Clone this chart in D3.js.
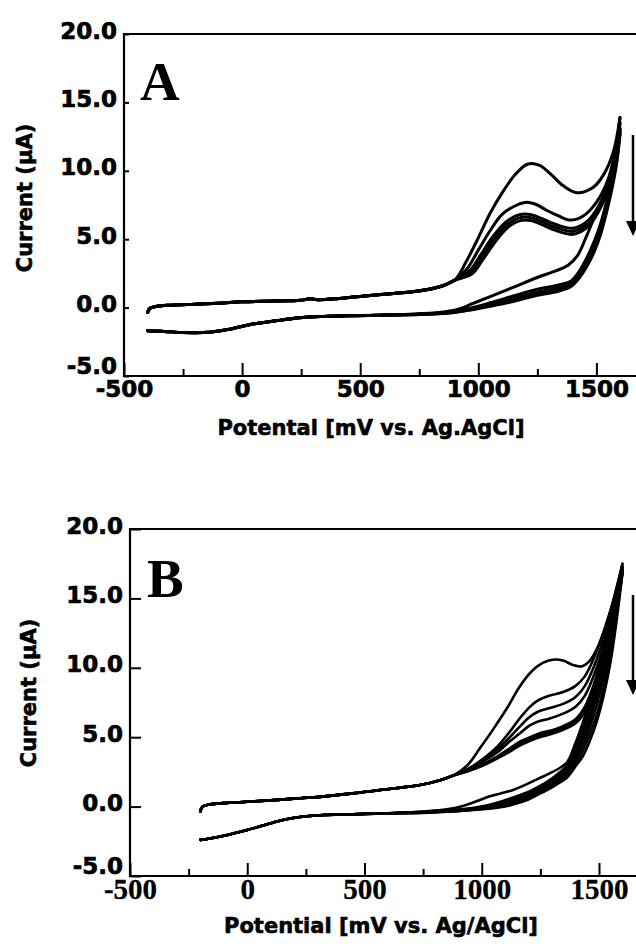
<!DOCTYPE html>
<html>
<head>
<meta charset="utf-8">
<script src="https://cdnjs.cloudflare.com/ajax/libs/d3/7.8.5/d3.min.js"></script>
<style>
    body { margin: 0; background: #fff; }
</style>
</head>
<body>
<div id="chart"></div>
<script>

/* * * * * * * * * * * * * *
*   data (mV, uA) pairs    *
* * * * * * * * * * * * * */

// axis ticks
const yTicks = [-5, 0, 5, 10, 15, 20];
const xTicks = [-500, 0, 500, 1000, 1500];
const xMinorTicks = [-250, 250, 750, 1250];

// panel A - forward scan, common part
const fwdBaseA = [[-400,-0.35],[-390,-0.05],[-360,0.1],[-300,0.18],[-200,0.25],[-100,0.32],[0,0.42],[100,0.47],[200,0.5],[250,0.53],[285,0.64],[320,0.58],[400,0.65],[500,0.82],[600,0.98],[700,1.12],[780,1.3],[850,1.6],[900,2.0]];
// panel A - forward scans after the split, cycles 1..5
const fwdA1 = [[950,3.4],[1000,5.1],[1050,6.9],[1105,8.5],[1160,9.8],[1210,10.5],[1260,10.4],[1310,9.7],[1360,8.9],[1418,8.4],[1487,8.8],[1530,9.7],[1572,11.4],[1600,13.9]];
const fwdA2 = [[951,2.8],[1000,4.2],[1049,5.6],[1100,6.8],[1164,7.5],[1206,7.7],[1250,7.5],[1291,7.1],[1340,6.7],[1390,6.4],[1444,6.7],[1500,7.7],[1550,9.4],[1600,13.5]];
const fwdA3 = [[964,2.7],[1010,3.85],[1062,5.2],[1120,6.3],[1177,6.8],[1220,6.8],[1270,6.5],[1317,6.15],[1360,5.9],[1402,5.8],[1461,6.3],[1510,7.45],[1560,9.45],[1600,13.1]];
const fwdA4 = [[968,2.55],[1013,3.65],[1064,4.95],[1120,6.05],[1177,6.58],[1220,6.58],[1270,6.28],[1317,5.93],[1360,5.68],[1402,5.58],[1461,6.08],[1510,7.25],[1560,9.25],[1600,12.9]];
const fwdA5 = [[972,2.45],[1017,3.45],[1067,4.7],[1122,5.82],[1178,6.36],[1222,6.36],[1270,6.06],[1317,5.71],[1360,5.46],[1402,5.36],[1461,5.86],[1510,7.05],[1560,9.05],[1600,12.7]];
// panel A - reverse scans, cycles 1..5, then common part
const revA1 = [[1600,13.9],[1585,11.9],[1565,9.9],[1540,8.5],[1503,7.1],[1460,5.3],[1420,3.8],[1380,3.1],[1330,2.7],[1250,2.2],[1150,1.5],[1050,0.8],[977,0.3],[920,-0.1],[860,-0.3],[750,-0.45]];
const revA2 = [[1600,13.5],[1588,11.7],[1572,10.0],[1545,7.9],[1517,6.1],[1490,4.8],[1461,3.7],[1425,2.6],[1389,1.9],[1340,1.65],[1300,1.5],[1250,1.35],[1148,0.85],[1050,0.35],[950,-0.1],[867,-0.35],[750,-0.47]];
const revA3 = [[1600,13.1],[1588,11.3],[1572,9.7],[1545,7.6],[1517,5.8],[1490,4.5],[1461,3.4],[1425,2.4],[1389,1.75],[1340,1.45],[1300,1.3],[1250,1.15],[1148,0.7],[1050,0.25],[950,-0.15],[867,-0.38],[750,-0.48]];
const revA4 = [[1600,12.9],[1588,11.0],[1572,9.4],[1545,7.3],[1517,5.5],[1490,4.25],[1461,3.2],[1425,2.25],[1389,1.6],[1340,1.3],[1300,1.15],[1250,1.0],[1148,0.55],[1050,0.15],[950,-0.2],[867,-0.4],[750,-0.5]];
const revA5 = [[1600,12.7],[1588,10.8],[1572,9.2],[1545,7.1],[1517,5.3],[1490,4.05],[1461,3.05],[1425,2.1],[1389,1.5],[1340,1.2],[1300,1.05],[1250,0.9],[1148,0.45],[1050,0.1],[950,-0.22],[867,-0.42],[750,-0.5]];
const revBaseA = [[612,-0.55],[450,-0.6],[330,-0.65],[243,-0.75],[150,-0.95],[31,-1.25],[-60,-1.6],[-139,-1.8],[-250,-1.82],[-330,-1.74],[-400,-1.7]];

// panel B - forward scan, common part
const fwdBaseB = [[-200,-0.35],[-190,0.0],[-160,0.15],[-100,0.25],[0,0.35],[100,0.45],[225,0.6],[310,0.7],[450,0.95],[566,1.2],[737,1.55],[822,1.9],[880,2.25]];
// panel B - forward scans after the split, cycles 1..7
const fwdB1 = [[940,3.0],[992,4.2],[1050,5.6],[1108,7.1],[1160,8.6],[1210,9.7],[1260,10.35],[1310,10.6],[1350,10.5],[1389,10.2],[1425,10.1],[1460,10.5],[1500,11.7],[1545,13.9],[1600,17.5]];
const fwdB2 = [[950,2.8],[1010,3.5],[1065,4.3],[1120,5.4],[1164,6.4],[1200,7.1],[1235,7.6],[1290,8.0],[1347,8.25],[1400,8.7],[1440,9.4],[1490,11.2],[1545,13.9],[1600,17.3]];
const fwdB3 = [[950,2.75],[1010,3.4],[1065,4.1],[1120,5.0],[1164,5.8],[1200,6.4],[1235,6.8],[1290,7.1],[1347,7.4],[1400,7.9],[1440,8.7],[1490,10.6],[1545,13.5],[1600,17.2]];
const fwdB4 = [[950,2.7],[1010,3.3],[1065,3.9],[1120,4.7],[1164,5.3],[1200,5.8],[1235,6.1],[1290,6.35],[1347,6.7],[1400,7.2],[1440,8.0],[1490,10.0],[1545,13.1],[1600,17.1]];
const fwdB5 = [[950,2.65],[1010,3.1],[1065,3.6],[1120,4.2],[1164,4.7],[1206,5.0],[1250,5.3],[1300,5.5],[1347,5.8],[1400,6.3],[1440,7.2],[1490,9.4],[1545,12.7],[1600,17.0]];
const fwdB6 = [[950,2.62],[1010,3.05],[1065,3.52],[1120,4.08],[1164,4.55],[1206,4.86],[1250,5.15],[1300,5.36],[1347,5.66],[1400,6.15],[1440,7.0],[1490,9.2],[1545,12.5],[1600,16.9]];
const fwdB7 = [[950,2.6],[1010,3.0],[1065,3.45],[1120,3.96],[1164,4.42],[1206,4.74],[1250,5.02],[1300,5.24],[1347,5.53],[1400,6.0],[1440,6.85],[1490,9.0],[1545,12.3],[1600,16.8]];
// panel B - reverse scans, cycles 1..7, then common part
const revB1 = [[1600,17.5],[1575,15.6],[1550,13.6],[1520,11.4],[1490,9.4],[1460,7.6],[1430,6.0],[1400,4.6],[1364,3.2],[1334,2.8],[1290,2.4],[1240,2.0],[1190,1.6],[1134,1.2],[1080,0.95],[1035,0.75],[980,0.4],[920,0.05],[850,-0.2],[750,-0.35]];
const revB2 = [[1600,17.3],[1575,15.3],[1550,13.2],[1520,10.9],[1490,8.9],[1460,7.1],[1430,5.6],[1400,4.3],[1364,3.0],[1320,2.3],[1280,1.8],[1249,1.5],[1190,1.0],[1134,0.65],[1080,0.35],[1020,0.08],[960,-0.1],[880,-0.25],[750,-0.38]];
const revB3 = [[1600,17.2],[1575,15.0],[1550,12.8],[1520,10.4],[1490,8.4],[1460,6.6],[1430,5.2],[1400,4.0],[1364,2.8],[1320,2.15],[1280,1.65],[1249,1.35],[1190,0.85],[1134,0.52],[1080,0.25],[1020,0.02],[960,-0.14],[880,-0.28],[750,-0.4]];
const revB4 = [[1600,17.1],[1575,14.6],[1550,12.3],[1520,9.9],[1490,7.9],[1460,6.2],[1430,4.8],[1400,3.7],[1364,2.6],[1320,2.0],[1280,1.5],[1249,1.2],[1190,0.7],[1134,0.4],[1080,0.15],[1020,-0.05],[960,-0.18],[880,-0.3],[750,-0.42]];
const revB5 = [[1600,17.0],[1575,14.2],[1550,11.8],[1520,9.3],[1490,7.3],[1460,5.7],[1430,4.4],[1400,3.4],[1364,2.4],[1320,1.85],[1280,1.4],[1249,1.1],[1190,0.6],[1134,0.3],[1080,0.08],[1020,-0.1],[960,-0.2],[880,-0.32],[750,-0.43]];
const revB6 = [[1600,16.9],[1575,13.8],[1550,11.2],[1520,8.6],[1490,6.6],[1460,5.2],[1430,4.0],[1400,3.1],[1364,2.2],[1320,1.7],[1280,1.3],[1249,1.0],[1190,0.5],[1134,0.2],[1080,0.0],[1020,-0.14],[960,-0.23],[880,-0.34],[750,-0.44]];
const revB7 = [[1600,16.8],[1575,13.4],[1550,10.5],[1520,8.0],[1490,6.1],[1460,4.7],[1430,3.6],[1400,2.9],[1364,2.1],[1320,1.6],[1280,1.2],[1249,0.95],[1190,0.45],[1134,0.15],[1080,-0.05],[1020,-0.17],[960,-0.25],[880,-0.35],[750,-0.45]];
const revBaseB = [[600,-0.48],[450,-0.55],[310,-0.62],[225,-0.75],[152,-0.97],[80,-1.3],[0,-1.68],[-100,-2.1],[-160,-2.3],[-200,-2.4]];

const cyclesA = [
    {fwd: fwdBaseA.concat(fwdA1), rev: revA1.concat(revBaseA)},
    {fwd: fwdBaseA.concat(fwdA2), rev: revA2.concat(revBaseA)},
    {fwd: fwdBaseA.concat(fwdA3), rev: revA3.concat(revBaseA)},
    {fwd: fwdBaseA.concat(fwdA4), rev: revA4.concat(revBaseA)},
    {fwd: fwdBaseA.concat(fwdA5), rev: revA5.concat(revBaseA)}
];
const cyclesB = [
    {fwd: fwdBaseB.concat(fwdB1), rev: revB1.concat(revBaseB)},
    {fwd: fwdBaseB.concat(fwdB2), rev: revB2.concat(revBaseB)},
    {fwd: fwdBaseB.concat(fwdB3), rev: revB3.concat(revBaseB)},
    {fwd: fwdBaseB.concat(fwdB4), rev: revB4.concat(revBaseB)},
    {fwd: fwdBaseB.concat(fwdB5), rev: revB5.concat(revBaseB)},
    {fwd: fwdBaseB.concat(fwdB6), rev: revB6.concat(revBaseB)},
    {fwd: fwdBaseB.concat(fwdB7), rev: revB7.concat(revBaseB)}
];

// plain hyphen for negatives, like the original figure
const fmtY = d => d3.format('.1f')(d).replace('\u2212', '-');
const fmtX = d => d3.format('d')(d).replace('\u2212', '-');


/* * * * * * * * * * * * * *
*      class CVPanel       *
* * * * * * * * * * * * * */

class CVPanel {

    constructor(svg, config, cycles){
        this.svg = svg;
        this.config = config;
        this.cycles = cycles;

        this.initVis()
    }

    initVis(){
        let vis = this;
        let c = vis.config;

        vis.g = vis.svg.append('g');

        // frame runs on past the right edge of the picture
        vis.x = d3.scaleLinear()
            .domain([-500, 1700])
            .range([c.left, c.left + 2200 * c.pxPerMv]);

        vis.y = d3.scaleLinear()
            .domain([-5, 20])
            .range([c.bottom, c.top]);

        // y axis, ticks point inward
        let yAxis = d3.axisLeft(vis.y)
            .tickValues(yTicks)
            .tickSizeInner(-c.yTickLen)
            .tickSizeOuter(0)
            .tickPadding(7)
            .tickFormat(fmtY);

        vis.g.append('g')
            .attr('transform', `translate(${c.left}, 0)`)
            .call(yAxis)
            .call(g => g.select('.domain').remove())
            .call(g => g.selectAll('line').attr('stroke', '#000').attr('stroke-width', 2))
            .call(g => g.selectAll('text')
                .attr('font-family', 'DejaVu Sans')
                .attr('font-weight', 'bold')
                .attr('font-size', 23)
                .attr('fill', '#000')
                .attr('stroke', '#000')
                .attr('stroke-width', 0.7)
                .attr('dy', d => d === -5 ? -3 : 4));

        // x axis, major + minor inward ticks
        let xAxis = d3.axisBottom(vis.x)
            .tickValues(xTicks)
            .tickSizeInner(-13)
            .tickSizeOuter(0)
            .tickFormat(fmtX);

        vis.g.append('g')
            .attr('transform', `translate(0, ${c.bottom})`)
            .call(xAxis)
            .call(g => g.select('.domain').remove())
            .call(g => g.selectAll('line').attr('stroke', '#000').attr('stroke-width', 2))
            .call(g => g.selectAll('text')
                .attr('font-family', c.xFont)
                .attr('font-weight', 'bold')
                .attr('font-size', c.xFontSize)
                .attr('fill', '#000')
                .attr('stroke', '#000')
                .attr('stroke-width', c.xFontStroke)
                .attr('y', c.xLabelY)
                .attr('dy', 0));

        vis.g.append('g')
            .attr('transform', `translate(0, ${c.bottom})`)
            .call(d3.axisBottom(vis.x).tickValues(xMinorTicks).tickSizeInner(-7).tickSizeOuter(0).tickFormat(''))
            .call(g => g.select('.domain').remove())
            .call(g => g.selectAll('line').attr('stroke', '#000').attr('stroke-width', 2));

        // frame: left, bottom, top
        let x0 = vis.x(-500), x1 = vis.x(1700);
        vis.g.append('path')
            .attr('d', `M${x1},${c.top}H${x0}V${c.bottom}H${x1}`)
            .attr('fill', 'none')
            .attr('stroke', '#000')
            .attr('stroke-width', 2.2);

        // axis titles
        vis.g.append('text')
            .attr('transform', `translate(${c.yTitleX}, ${c.yTitleY}) rotate(-90)`)
            .attr('text-anchor', 'middle')
            .attr('font-family', 'DejaVu Sans')
            .attr('font-weight', 'bold')
            .attr('font-size', 21)
            .attr('stroke', '#000')
            .attr('stroke-width', 0.6)
            .text('Current (\u00B5A)');

        vis.g.append('text')
            .attr('x', c.xTitleX)
            .attr('y', c.xTitleY)
            .attr('text-anchor', 'middle')
            .attr('font-family', 'DejaVu Sans')
            .attr('font-weight', 'bold')
            .attr('font-size', 21)
            .attr('stroke', '#000')
            .attr('stroke-width', 0.6)
            .text(c.xTitle);

        // panel letter
        vis.g.append('text')
            .attr('x', c.letterX)
            .attr('y', c.letterY)
            .attr('font-family', 'Liberation Serif')
            .attr('font-weight', 'bold')
            .attr('font-size', 55)
            .text(c.letter);

        // arrow: the peak drops with every cycle
        vis.g.append('line')
            .attr('x1', 633).attr('x2', 633)
            .attr('y1', c.arrowTop).attr('y2', c.arrowTip - 12)
            .attr('stroke', '#000')
            .attr('stroke-width', 2.5);
        vis.g.append('path')
            .attr('d', `M626,${c.arrowTip - 15}L640,${c.arrowTip - 15}L633,${c.arrowTip}Z`)
            .attr('fill', '#000');

        vis.updateVis();
    }

    updateVis(){
        let vis = this;

        let line = d3.line()
            .x(d => vis.x(d[0]))
            .y(d => vis.y(d[1]))
            .curve(d3.curveCatmullRom.alpha(0.5));

        let scans = [];
        vis.cycles.forEach(cyc => { scans.push(cyc.fwd); scans.push(cyc.rev); });

        vis.g.append('g')
            .selectAll('path')
            .data(scans)
            .join('path')
            .attr('d', line)
            .attr('fill', 'none')
            .attr('stroke', '#000')
            .attr('stroke-width', vis.config.lineWidth)
            .attr('stroke-linecap', 'round')
            .attr('stroke-linejoin', 'round');
    }
}


let svg = d3.select('#chart').append('svg')
    .attr('width', 636)
    .attr('height', 944);

new CVPanel(svg, {
    left: 124, top: 34, bottom: 376, pxPerMv: 0.2362,
    yTickLen: 5, xFont: 'DejaVu Sans', xFontSize: 23, xFontStroke: 0.7, xLabelY: 21,
    yTitleX: 32, yTitleY: 198,
    xTitle: 'Potental [mV vs. Ag.AgCl]', xTitleX: 371, xTitleY: 435,
    letter: 'A', letterX: 140, letterY: 100,
    arrowTop: 135, arrowTip: 236, lineWidth: 3
}, cyclesA);

new CVPanel(svg, {
    left: 130, top: 529, bottom: 876, pxPerMv: 0.2345,
    yTickLen: 11, xFont: 'Liberation Serif', xFontSize: 29, xFontStroke: 0.3, xLabelY: 23,
    yTitleX: 36, yTitleY: 693,
    xTitle: 'Potential [mV vs. Ag/AgCl]', xTitleX: 381, xTitleY: 933,
    letter: 'B', letterX: 147, letterY: 597,
    arrowTop: 595, arrowTip: 695, lineWidth: 2.6
}, cyclesB);

</script>
</body>
</html>
